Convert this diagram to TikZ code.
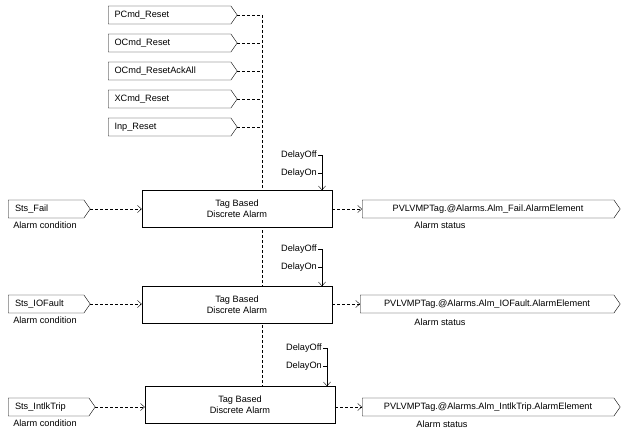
\documentclass[tikz,border=0pt]{standalone}
\usepackage{fontspec}
\setmainfont{Liberation Sans}
\usetikzlibrary{shapes.symbols,positioning,arrows.meta}
\tikzset{
    tag/.style={draw, signal, signal to=east, signal pointer angle=110, fill=white,
        minimum height=18pt, inner xsep=6pt, anchor=west, font=\fontsize{9.2}{10}\selectfont, text height=6.5pt},
    block/.style={draw, fill=white, minimum width=190pt, minimum height=37pt, align=center,
        font=\fontsize{9.2}{11}\selectfont},
    note/.style={font=\fontsize{9.2}{10}\selectfont},
    flow/.style={densely dashed, ->},
}
\begin{document}
\begin{tikzpicture}[x=1pt, y=-1pt, >={Straight Barb[length=4pt,width=7pt]}]
\useasboundingbox (0,0) rectangle (624,436);

% reset inputs
    \node[tag, minimum width=129pt, text width=110pt] (pcmd) at (108,15) {PCmd\_Reset};
    \node[tag, minimum width=129pt, text width=110pt] (ocmd) at (108,43) {OCmd\_Reset};
    \node[tag, minimum width=129pt, text width=110pt] (ackall) at (108,71) {OCmd\_ResetAckAll};
    \node[tag, minimum width=129pt, text width=110pt] (xcmd) at (108,99) {XCmd\_Reset};
    \node[tag, minimum width=129pt, text width=110pt] (inp) at (108,127) {Inp\_Reset};
    \coordinate (rtop) at (262,15);
    \coordinate (rbot) at (262,387);
    \draw[densely dashed] (rtop) -- (rbot);
    \foreach \n in {pcmd,ocmd,ackall,xcmd,inp}
        \draw[densely dashed] (\n.east) -- (\n.east -| rtop);

% alarm blocks
    \node[block] (failb) at (237,209) {Tag Based\\Discrete Alarm};
    \node[block] (iofb) at (237,305) {Tag Based\\Discrete Alarm};
    \node[block] (intb) at (240,405) {Tag Based\\Discrete Alarm};

% inputs
    \node[tag, minimum width=82pt, text width=62pt] (fail) at (8,209) {Sts\_Fail};
    \node[tag, minimum width=82pt, text width=62pt] (iof) at (8,304) {Sts\_IOFault};
    \node[tag, minimum width=87pt, text width=67pt] (intl) at (8,407) {Sts\_IntlkTrip};
    \node[note] at (45,225) {Alarm condition};
    \node[note] at (45,320) {Alarm condition};
    \node[note] at (45,423) {Alarm condition};
    \draw[flow] (fail.east) -- (failb.west |- fail.east);
    \draw[flow] (iof.east) -- (iofb.west |- iof.east);
    \draw[flow] (intl.east) -- (intb.west |- intl.east);

% outputs
    \node[tag, minimum width=258pt, text width=238pt, align=center] (failo) at (362,209) {PVLVMPTag.@Alarms.Alm\_Fail.AlarmElement};
    \node[tag, minimum width=260pt, text width=240pt, align=center] (iofo) at (360,304) {PVLVMPTag.@Alarms.Alm\_IOFault.AlarmElement};
    \node[tag, minimum width=258pt, text width=238pt, align=center] (intlo) at (362,407) {PVLVMPTag.@Alarms.Alm\_IntlkTrip.AlarmElement};
    \node[note] at (440,225) {Alarm status};
    \node[note] at (440,322) {Alarm status};
    \node[note] at (442,424) {Alarm status};
    \draw[flow] (failb.east |- failo.west) -- (failo.west);
    \draw[flow] (iofb.east |- iofo.west) -- (iofo.west);
    \draw[flow] (intb.east |- intlo.west) -- (intlo.west);

% delays
    \foreach \b/\x/\y in {failb/322/155, iofb/322/249, intb/327/348} {
        \node[note, anchor=east, inner xsep=1pt] (off\b) at (\x-4,\y) {DelayOff};
        \node[note, anchor=east, inner xsep=1pt] (on\b) at (\x-4,\y+18) {DelayOn};
        \draw[->] (off\b.east) -- (\x,\y) -- (\x,0 |- \b.north);
        \draw (on\b.east) -- (\x,\y+18);
    }
\end{tikzpicture}
\end{document}
